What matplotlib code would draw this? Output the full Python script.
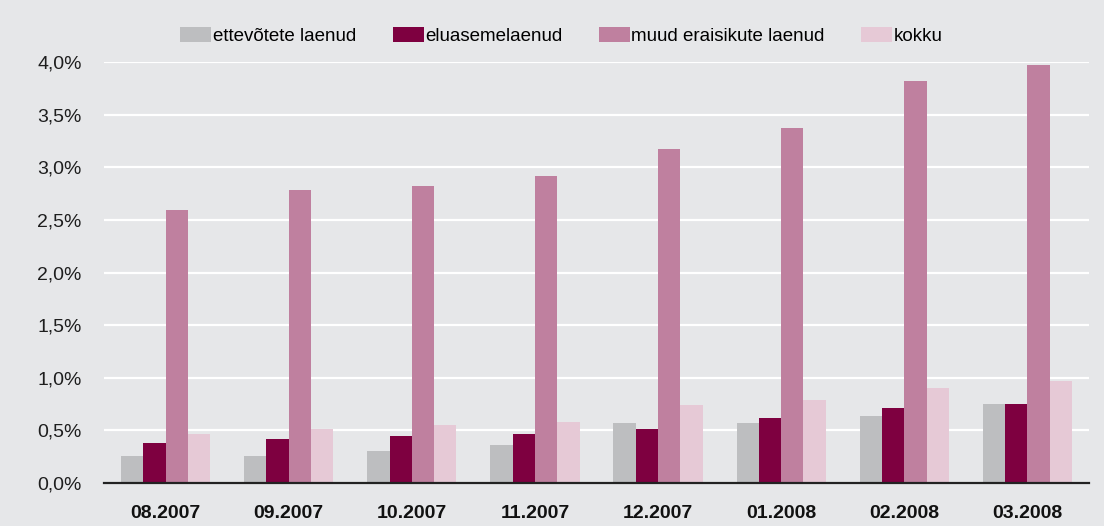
import matplotlib
matplotlib.use('Agg')
import matplotlib.pyplot as plt
import numpy as np

plt.rcParams['font.family'] = ['Liberation Sans', 'DejaVu Sans']

kuud = ['08.2007', '09.2007', '10.2007', '11.2007', '12.2007', '01.2008', '02.2008', '03.2008']
ettevotete = [0.26, 0.26, 0.30, 0.36, 0.57, 0.57, 0.64, 0.75]
eluaseme = [0.38, 0.42, 0.45, 0.47, 0.51, 0.62, 0.71, 0.75]
muud = [2.59, 2.78, 2.82, 2.92, 3.17, 3.37, 3.82, 3.97]
kokku = [0.47, 0.51, 0.55, 0.58, 0.74, 0.79, 0.90, 0.97]

seeriad = [
    ('ettevõtete laenud', ettevotete, '#bdbec0'),
    ('eluasemelaenud', eluaseme, '#7e0040'),
    ('muud eraisikute laenud', muud, '#bf809f'),
    ('kokku', kokku, '#e6c9d6'),
]

bg = '#e6e7e9'
fig = plt.figure(figsize=(11.04, 5.26), dpi=100, facecolor=bg)
ax = fig.add_axes([0.0942, 0.0817, 0.8922, 0.8004], facecolor=bg)

x = np.arange(len(kuud))
w = 0.181
for i, (nimi, vals, col) in enumerate(seeriad):
    ax.bar(x + (i - 1.5) * w, vals, w, color=col, label=nimi, zorder=3)

ax.set_ylim(0, 4.0)
ax.set_xlim(-0.5, len(kuud) - 0.5)
yt = np.arange(0, 4.01, 0.5)
ax.set_yticks(yt)
ax.set_yticklabels([f'{v:.1f}%'.replace('.', ',') for v in yt], fontsize=14, color='#1e1e1e')
ax.set_xticks(x)
ax.set_xticklabels(kuud, fontsize=14, fontweight='bold', color='#111111')
ax.tick_params(axis='both', length=0)
ax.tick_params(axis='x', pad=16)
ax.tick_params(axis='y', pad=16)
ax.grid(axis='y', color='white', linewidth=1.6, zorder=0)
for s in ['top', 'right', 'left']:
    ax.spines[s].set_visible(False)
ax.spines['bottom'].set_color('#222222')
ax.spines['bottom'].set_linewidth(1.6)
ax.spines['bottom'].set_zorder(4)

fig.legend(loc='center', bbox_to_anchor=(0.5086, 0.932), ncol=4, frameon=False,
           fontsize=13.5, handlelength=1.65, handleheight=0.9, handletextpad=0.08,
           columnspacing=1.95)

fig.savefig('out.png', dpi=100, facecolor=bg)
